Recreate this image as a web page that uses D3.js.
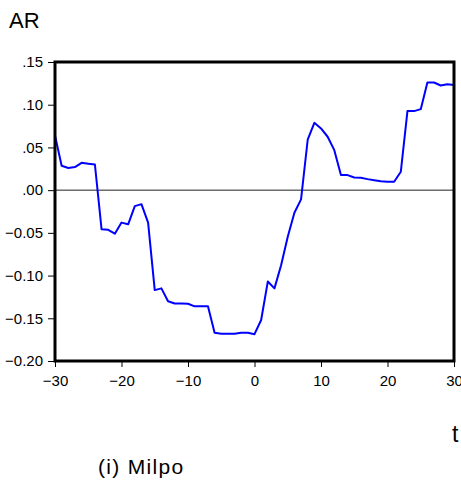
<!DOCTYPE html>
<html>
<head>
<meta charset="utf-8">
<script src="https://cdn.jsdelivr.net/npm/d3@7"></script>
<style>
  html, body { margin: 0; padding: 0; background: #fff; }
  svg { display: block; font-family: "Liberation Sans", Arial, sans-serif; }
</style>
</head>
<body>
<svg id="chart" width="461" height="481"></svg>
<script>
// Event window (days relative to the event) and abnormal returns
const eventDays = d3.range(-30, 31);
const abnormalReturns = [
  0.064, 0.0285, 0.026, 0.027, 0.032, 0.031, 0.030,          // -30 .. -24
  -0.0457, -0.0465, -0.051, -0.038, -0.040, -0.0187, -0.0164, // -23 .. -17
  -0.038, -0.117, -0.115, -0.130, -0.1327, -0.1327, -0.133,   // -16 .. -10
  -0.136, -0.136, -0.136, -0.167, -0.168, -0.168, -0.168,     // -9 .. -3
  -0.167, -0.167, -0.1686, -0.152, -0.107, -0.115, -0.088,    // -2 .. 4
  -0.0546, -0.0265, -0.0108, 0.059, 0.0788, 0.0722, 0.0625,   // 5 .. 11
  0.0468, 0.0176, 0.0176, 0.0148, 0.0145, 0.0129, 0.0117,     // 12 .. 18
  0.0105, 0.0098, 0.0098, 0.0215, 0.0925, 0.0925, 0.0948,     // 19 .. 25
  0.126, 0.126, 0.1225, 0.124, 0.123                          // 26 .. 30
];
const xTicks = [-30, -20, -10, 0, 10, 20, 30];
const yTicks = [-0.20, -0.15, -0.10, -0.05, 0.00, 0.05, 0.10, 0.15];
const yAxisTitle = "AR";
const xAxisTitle = "t";
const panelTitle = "(i) Milpo";

const svg = d3.select("#chart");
const plot = { left: 55, right: 454, top: 62, bottom: 361 };

const x = d3.scaleLinear().domain([-30, 30]).range([plot.left, plot.right]);
const y = d3.scaleLinear().domain([-0.20, 0.15]).range([plot.bottom, plot.top]);

// ".15", "-.05" style labels
const fmt = v => d3.format(".2f")(v).replace(/^(-?)0\./, "$1.");

// zero reference line
svg.append("line")
  .attr("x1", plot.left).attr("x2", plot.right)
  .attr("y1", y(0)).attr("y2", y(0))
  .attr("stroke", "#222").attr("stroke-width", 1);

// series
const line = d3.line()
  .x((d, i) => x(eventDays[i]))
  .y(d => y(d));
svg.append("path")
  .datum(abnormalReturns)
  .attr("d", line)
  .attr("fill", "none")
  .attr("stroke", "#0000ff")
  .attr("stroke-width", 2)
  .attr("stroke-linejoin", "round");

// axes
const yAxis = d3.axisLeft(y).tickValues(yTicks).tickFormat(fmt).tickSize(7).tickPadding(5);
const xAxis = d3.axisBottom(x).tickValues(xTicks).tickFormat(d3.format("d")).tickSize(6).tickPadding(8);

const gy = svg.append("g").attr("transform", `translate(${plot.left},0)`).call(yAxis);
const gx = svg.append("g").attr("transform", `translate(0,${plot.bottom})`).call(xAxis);
[gy, gx].forEach(g => {
  g.select(".domain").remove();
  g.selectAll(".tick line").attr("stroke", "#000").attr("stroke-width", 1);
  g.selectAll(".tick text")
    .attr("fill", "#000")
    .style("font-family", "'Liberation Sans', Arial, sans-serif")
    .style("font-size", "15px");
});

// frame
svg.append("rect")
  .attr("x", plot.left).attr("y", plot.top)
  .attr("width", plot.right - plot.left).attr("height", plot.bottom - plot.top)
  .attr("fill", "none").attr("stroke", "#000").attr("stroke-width", 3);

// titles
svg.append("text").attr("x", 9).attr("y", 28)
  .style("font-size", "22px").text(yAxisTitle);
svg.append("text").attr("x", 452).attr("y", 442)
  .style("font-size", "23px").text(xAxisTitle);
svg.append("text").attr("x", 98).attr("y", 474)
  .style("font-size", "21px").style("letter-spacing", "1.3px").text(panelTitle);
</script>
</body>
</html>
